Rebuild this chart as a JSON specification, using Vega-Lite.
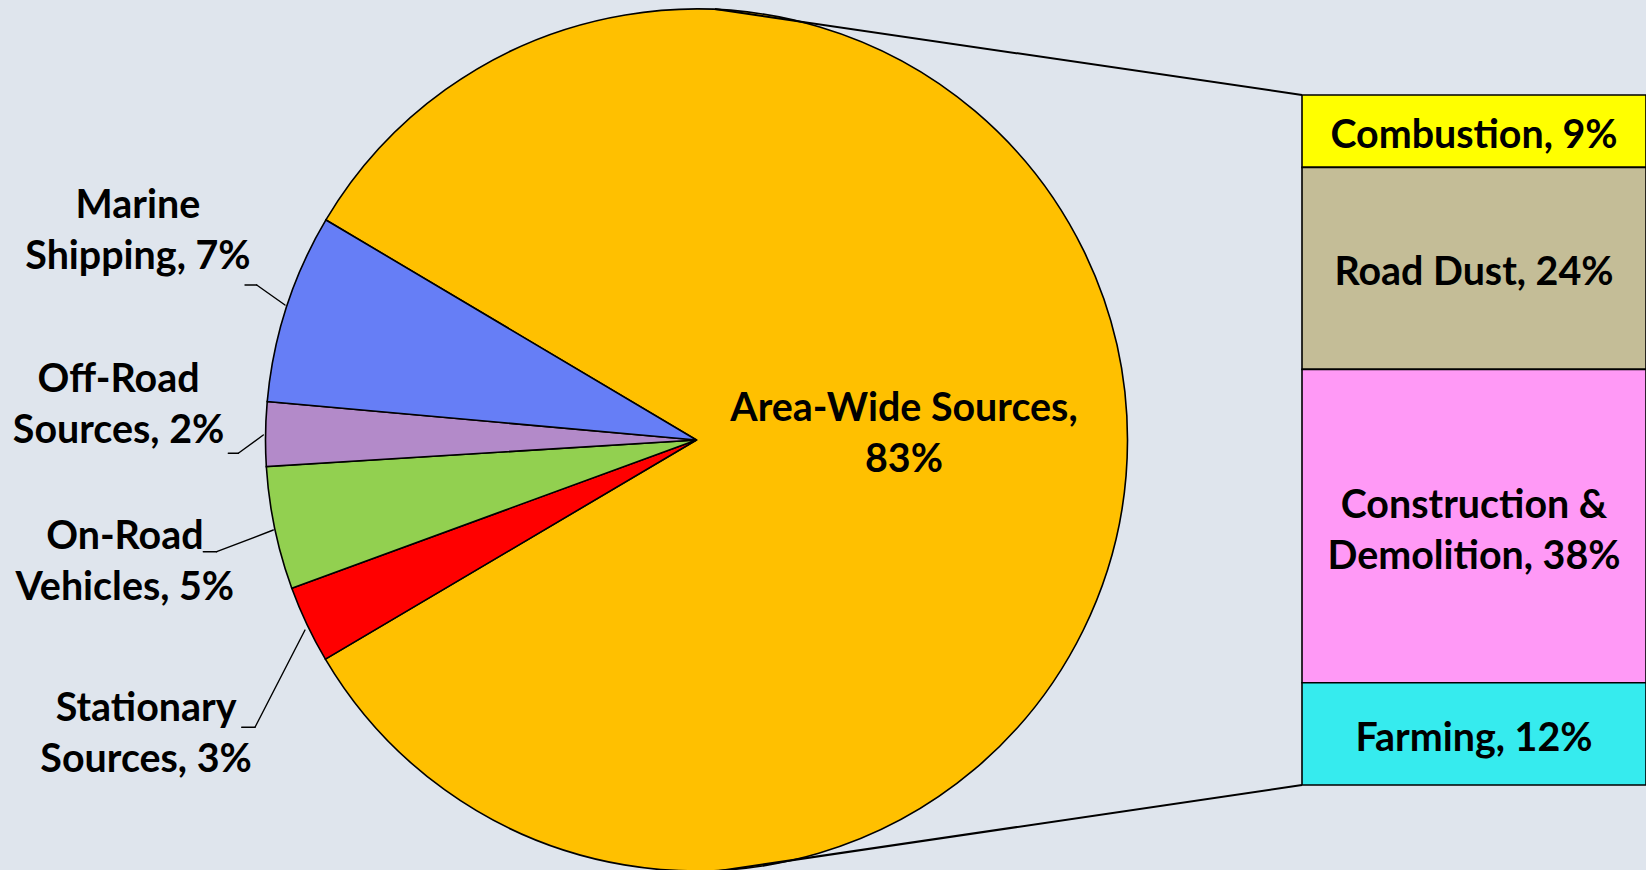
{
  "$schema": "https://vega.github.io/schema/vega-lite/v6.json",
  "width": 1393,
  "height": 880,
  "autosize": {"type": "none"},
  "padding": {"left": 0, "top": 0, "right": 253, "bottom": 0},
  "background": "#DFE5ED",
  "config": {
    "view": {"stroke": null},
    "text": {"font": "Lato", "fontWeight": "bold", "fontSize": 39.4, "color": "#000000", "align": "center", "baseline": "middle", "lineHeight": 51}
  },
  "datasets": {
    "sources": [
      {"idx": 1, "source": "Area-Wide Sources", "pct": 82.9, "label": ["Area-Wide Sources,", "83%"]},
      {"idx": 2, "source": "Stationary Sources", "pct": 2.9, "label": ["Stationary", "Sources, 3%"]},
      {"idx": 3, "source": "On-Road Vehicles", "pct": 4.6, "label": ["On-Road", "Vehicles, 5%"]},
      {"idx": 4, "source": "Off-Road Sources", "pct": 2.4, "label": ["Off-Road", "Sources, 2%"]},
      {"idx": 5, "source": "Marine Shipping", "pct": 7.1, "label": ["Marine", "Shipping, 7%"]}
    ],
    "areawide": [
      {"idx": 1, "category": "Combustion", "share": 8.7, "label": ["Combustion, 9%"]},
      {"idx": 2, "category": "Road Dust", "share": 24.3, "label": ["Road Dust, 24%"]},
      {"idx": 3, "category": "Construction & Demolition", "share": 37.7, "label": ["Construction &", "Demolition, 38%"]},
      {"idx": 4, "category": "Farming", "share": 12.3, "label": ["Farming, 12%"]}
    ]
  },
  "layer": [
    {
      "data": {"name": "sources"},
      "encoding": {
        "theta": {"field": "pct", "type": "quantitative", "stack": true, "scale": {"range": [5.2482, 11.5314]}},
        "order": {"field": "idx", "type": "quantitative"}
      },
      "layer": [
        {
          "mark": {"type": "arc", "outerRadius": 431, "stroke": "#000000", "strokeWidth": 1.6},
          "encoding": {
            "color": {
              "field": "source", "type": "nominal", "legend": null,
              "scale": {
                "domain": ["Area-Wide Sources", "Stationary Sources", "On-Road Vehicles", "Off-Road Sources", "Marine Shipping"],
                "range": ["#FFC000", "#FF0000", "#92D050", "#B38AC9", "#667EF6"]
              }
            }
          }
        },
        {
          "mark": {"type": "text", "radius": 207.5, "dy": -31.7},
          "encoding": {"text": {"condition": {"test": "datum.source === 'Area-Wide Sources'", "field": "label"}, "value": ""}}
        },
        {
          "mark": {"type": "text", "radius": 609, "dy": 8},
          "encoding": {"text": {"condition": {"test": "datum.source === 'Stationary Sources'", "field": "label"}, "value": ""}}
        },
        {
          "mark": {"type": "text", "radius": 584, "dy": -22.6},
          "encoding": {"text": {"condition": {"test": "datum.source === 'On-Road Vehicles'", "field": "label"}, "value": ""}}
        },
        {
          "mark": {"type": "text", "radius": 578, "dy": -52.4},
          "encoding": {"text": {"condition": {"test": "datum.source === 'Off-Road Sources'", "field": "label"}, "value": ""}}
        },
        {
          "mark": {"type": "text", "radius": 587, "dy": -53.5},
          "encoding": {"text": {"condition": {"test": "datum.source === 'Marine Shipping'", "field": "label"}, "value": ""}}
        }
      ]
    },
    {
      "data": {"name": "areawide"},
      "encoding": {
        "x": {"datum": "Area-Wide Sources", "type": "nominal", "axis": null, "scale": {"range": [1302, 1646], "paddingInner": 0, "paddingOuter": 0}},
        "y": {"field": "share", "type": "quantitative", "stack": "zero", "axis": null, "scale": {"domain": [0, 83], "range": [95, 785], "nice": false, "zero": false}},
        "order": {"field": "idx", "type": "quantitative"}
      },
      "layer": [
        {
          "mark": {"type": "bar", "stroke": "#000000", "strokeWidth": 1.6},
          "encoding": {
            "color": {
              "field": "category", "type": "nominal", "legend": null,
              "scale": {
                "domain": ["Combustion", "Road Dust", "Construction & Demolition", "Farming"],
                "range": ["#FFFF00", "#C4BD97", "#FF99F6", "#36EBEE"]
              }
            }
          }
        },
        {
          "mark": {"type": "text", "dy": 5},
          "encoding": {
            "y": {"field": "share", "type": "quantitative", "stack": "zero", "bandPosition": 0.5, "axis": null},
            "detail": {"field": "category"},
            "text": {"condition": {"test": "length(datum.label) == 1", "field": "label"}, "value": ""}
          }
        },
        {
          "mark": {"type": "text", "dy": -20},
          "encoding": {
            "y": {"field": "share", "type": "quantitative", "stack": "zero", "bandPosition": 0.5, "axis": null},
            "detail": {"field": "category"},
            "text": {"condition": {"test": "length(datum.label) > 1", "field": "label"}, "value": ""}
          }
        }
      ]
    },
    {
      "data": {"values": [{}]},
      "layer": [
        {
          "mark": {"type": "rule", "color": "#000000", "strokeWidth": 2},
          "encoding": {
            "x": {"datum": 715, "type": "quantitative", "axis": null, "scale": {"domain": [0, 1393], "nice": false, "zero": false}},
            "y": {"datum": 9, "type": "quantitative", "axis": null, "scale": {"domain": [0, 880], "reverse": true, "nice": false, "zero": false}},
            "x2": {"datum": 1302},
            "y2": {"datum": 95}
          }
        },
        {
          "mark": {"type": "rule", "color": "#000000", "strokeWidth": 2},
          "encoding": {
            "x": {"datum": 712, "type": "quantitative", "axis": null},
            "y": {"datum": 872, "type": "quantitative", "axis": null},
            "x2": {"datum": 1302},
            "y2": {"datum": 785}
          }
        },
        {
          "mark": {"type": "rule", "color": "#000000", "strokeWidth": 1.4, "strokeCap": "round"},
          "encoding": {
            "x": {"datum": 285, "type": "quantitative", "axis": null},
            "y": {"datum": 305, "type": "quantitative", "axis": null},
            "x2": {"datum": 256.7},
            "y2": {"datum": 285}
          }
        },
        {
          "mark": {"type": "rule", "color": "#000000", "strokeWidth": 1.4, "strokeCap": "round"},
          "encoding": {
            "x": {"datum": 256.7, "type": "quantitative", "axis": null},
            "y": {"datum": 285, "type": "quantitative", "axis": null},
            "x2": {"datum": 245}
          }
        },
        {
          "mark": {"type": "rule", "color": "#000000", "strokeWidth": 1.4, "strokeCap": "round"},
          "encoding": {
            "x": {"datum": 263.3, "type": "quantitative", "axis": null},
            "y": {"datum": 435, "type": "quantitative", "axis": null},
            "x2": {"datum": 238.3},
            "y2": {"datum": 453.3}
          }
        },
        {
          "mark": {"type": "rule", "color": "#000000", "strokeWidth": 1.4, "strokeCap": "round"},
          "encoding": {
            "x": {"datum": 238.3, "type": "quantitative", "axis": null},
            "y": {"datum": 453.3, "type": "quantitative", "axis": null},
            "x2": {"datum": 228.3}
          }
        },
        {
          "mark": {"type": "rule", "color": "#000000", "strokeWidth": 1.4, "strokeCap": "round"},
          "encoding": {
            "x": {"datum": 273.3, "type": "quantitative", "axis": null},
            "y": {"datum": 530, "type": "quantitative", "axis": null},
            "x2": {"datum": 216.7},
            "y2": {"datum": 551.7}
          }
        },
        {
          "mark": {"type": "rule", "color": "#000000", "strokeWidth": 1.4, "strokeCap": "round"},
          "encoding": {
            "x": {"datum": 216.7, "type": "quantitative", "axis": null},
            "y": {"datum": 551.7, "type": "quantitative", "axis": null},
            "x2": {"datum": 203.3}
          }
        },
        {
          "mark": {"type": "rule", "color": "#000000", "strokeWidth": 1.4, "strokeCap": "round"},
          "encoding": {
            "x": {"datum": 305, "type": "quantitative", "axis": null},
            "y": {"datum": 630, "type": "quantitative", "axis": null},
            "x2": {"datum": 255},
            "y2": {"datum": 727.3}
          }
        },
        {
          "mark": {"type": "rule", "color": "#000000", "strokeWidth": 1.4, "strokeCap": "round"},
          "encoding": {
            "x": {"datum": 255, "type": "quantitative", "axis": null},
            "y": {"datum": 727.3, "type": "quantitative", "axis": null},
            "x2": {"datum": 241.7}
          }
        }
      ]
    }
  ],
  "resolve": {"scale": {"x": "independent", "y": "independent", "color": "independent", "theta": "independent"}}
}
